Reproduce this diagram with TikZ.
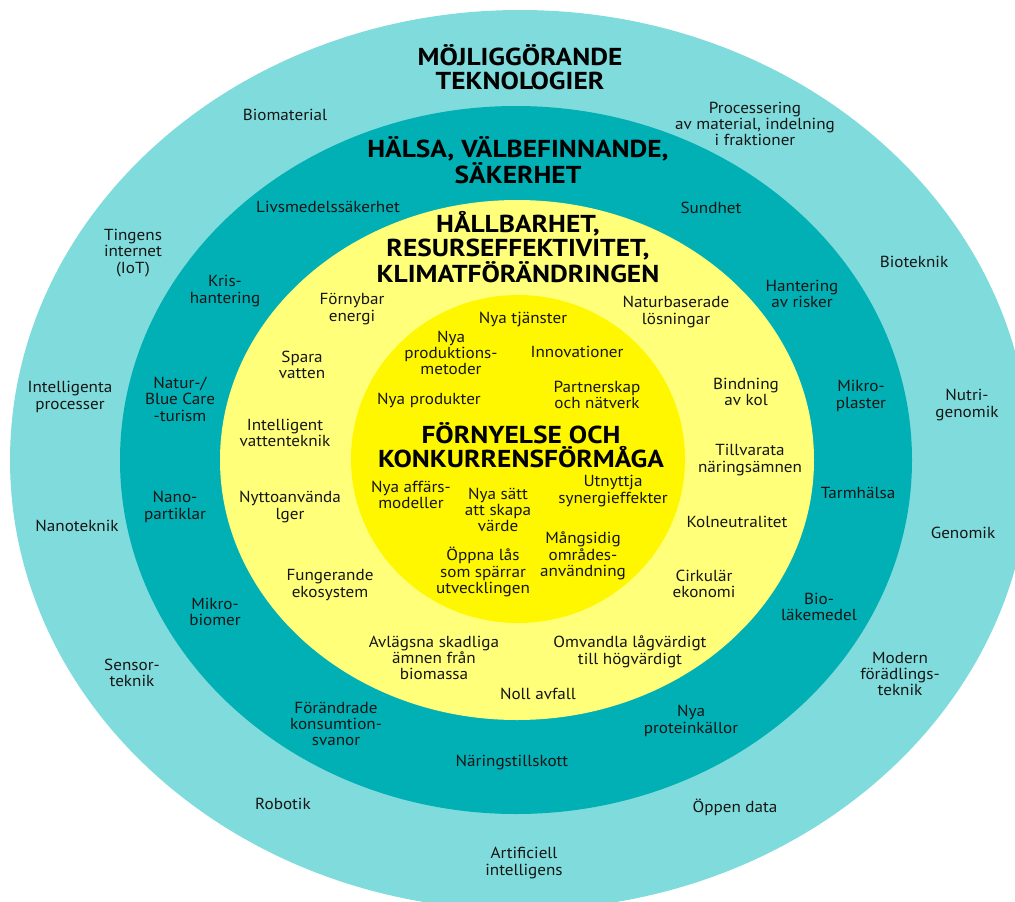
\documentclass[tikz,border=0pt]{standalone}
\usepackage{fontspec}
\setmainfont{PT Sans}
\newfontfamily\bodyfont[FakeStretch=1.07]{PT Sans}
\newfontfamily\headfont[FakeStretch=1.12]{PT Sans}
\definecolor{outerC}{HTML}{80DCDC}
\definecolor{tealC}{HTML}{00B0B4}
\definecolor{lyelC}{HTML}{FFFF7A}
\definecolor{yelC}{HTML}{FFF700}
\definecolor{txtC}{HTML}{151515}
\begin{document}
\begin{tikzpicture}[x=1pt,y=-1pt,
  lbl/.style={align=center,inner sep=0pt,text=txtC,font=\bodyfont\fontsize{16}{16.4}\selectfont},
  ttl/.style={align=center,inner sep=0pt,text=black,font=\headfont\fontsize{24.5}{24.4}\selectfont\bfseries}]
\useasboundingbox (0,0) rectangle (1015,902);
\begin{scope}
\clip (0,0) rectangle (1015,902);
\fill[outerC] (520,460) ellipse [x radius=510, y radius=450];
\fill[tealC] (516,460) ellipse [x radius=396, y radius=354];
\fill[lyelC] (517,460) ellipse [x radius=297, y radius=260];
\fill[yelC] (518,459) ellipse [x radius=167, y radius=164];
\end{scope}
% outer ring
\node[ttl] (o0) at (520,67) {MÖJLIGGÖRANDE\\TEKNOLOGIER};
\node[lbl] (o1) at (285,115) {Biomaterial};
\node[lbl] (o2) at (755,124) {Processering\\av material, indelning\\i fraktioner};
\node[lbl] (o3) at (133,253) {Tingens\\internet\\(IoT)};
\node[lbl] (o4) at (914,262) {Bioteknik};
\node[lbl] (o5) at (70,397) {Intelligenta\\processer};
\node[lbl] (o6) at (967,405) {Nutri-\\genomik};
\node[lbl] (o7) at (77,526) {Nanoteknik};
\node[lbl] (o8) at (963,533) {Genomik};
\node[lbl] (o9) at (132,673) {Sensor-\\teknik};
\node[lbl] (o10) at (900,674) {Modern\\förädlings-\\teknik};
\node[lbl] (o11) at (283,804) {Robotik};
\node[lbl] (o12) at (735,807) {Öppen data};
\node[lbl] (o13) at (524,863) {Artificiell\\intelligens};
% teal ring
\node[ttl] (h0) at (518,160) {HÄLSA, VÄLBEFINNANDE,\\SÄKERHET};
\node[lbl] (h1) at (328,207) {Livsmedelssäkerhet};
\node[lbl] (h2) at (711,208) {Sundhet};
\node[lbl] (h3) at (225,291) {Kris-\\hantering};
\node[lbl] (h4) at (802,294) {Hantering\\av risker};
\node[lbl] (h5) at (180,399) {Natur-/\\Blue Care\\-turism};
\node[lbl] (h6) at (861,396) {Mikro-\\plaster};
\node[lbl] (h7) at (858,493) {Tarmhälsa};
\node[lbl] (h8) at (175,507) {Nano-\\partiklar};
\node[lbl] (h9) at (215,612) {Mikro-\\biomer};
\node[lbl] (h10) at (819,607) {Bio-\\läkemedel};
\node[lbl] (h11) at (336,724) {Förändrade\\konsumtion-\\svanor};
\node[lbl] (h12) at (691,721) {Nya\\proteinkällor};
\node[lbl] (h13) at (512,763) {Näringstillskott};
% light yellow ring
\node[ttl] (s0) at (518,247) {HÅLLBARHET,\\RESURSEFFEKTIVITET,\\KLIMATFÖRÄNDRINGEN};
\node[lbl] (s1) at (352,309) {Förnybar\\energi};
\node[lbl] (s2) at (676,312) {Naturbaserade\\lösningar};
\node[lbl] (s3) at (302,365) {Spara\\vatten};
\node[lbl] (s4) at (746,392) {Bindning\\av kol};
\node[lbl] (s5) at (285,433) {Intelligent\\vattenteknik};
\node[lbl] (s6) at (750,460) {Tillvarata\\näringsämnen};
\node[lbl] (s7) at (290,507) {Nyttoanvända\\lger};
\node[lbl] (s8) at (737,522) {Kolneutralitet};
\node[lbl] (s9) at (330,585) {Fungerande\\ekosystem};
\node[lbl] (s10) at (704,584) {Cirkulär\\ekonomi};
\node[lbl] (s11) at (434,658) {Avlägsna skadliga\\ämnen från\\biomassa};
\node[lbl] (s12) at (630,652) {Omvandla lågvärdigt\\till högvärdigt};
\node[lbl] (s13) at (538,694) {Noll avfall};
% inner circle
\node[ttl] (f0) at (521,445) {FÖRNYELSE OCH\\KONKURRENSFÖRMÅGA};
\node[lbl] (f1) at (523,320) {Nya tjänster};
\node[lbl] (f2) at (451,353) {Nya\\produktions-\\metoder};
\node[lbl] (f3) at (577,352) {Innovationer};
\node[lbl] (f4) at (429,400) {Nya produkter};
\node[lbl] (f5) at (597,395) {Partnerskap\\och nätverk};
\node[lbl] (f6) at (411,495) {Nya affärs-\\modeller};
\node[lbl] (f7) at (498,510) {Nya sätt\\att skapa\\värde};
\node[lbl] (f8) at (613,491) {Utnyttja\\synergieffekter};
\node[lbl] (f9) at (583,556) {Mångsidig\\områdes-\\användning};
\node[lbl] (f10) at (483,572) {Öppna lås\\som spärrar\\utvecklingen};
\end{tikzpicture}
\end{document}
